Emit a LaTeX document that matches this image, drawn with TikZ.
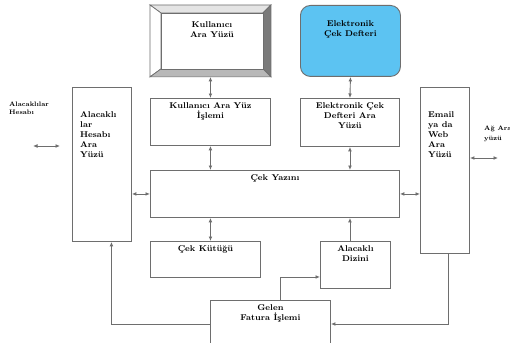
\documentclass[tikz,border=0pt]{standalone}
\usepackage{tikz}
\usetikzlibrary{arrows.meta, positioning, calc}
\definecolor{cdLine}{HTML}{6E6E6E}
\definecolor{cdBlue}{HTML}{5CC3F2}
\definecolor{cdDark}{HTML}{7A7A7A}
\definecolor{cdMid}{HTML}{B8B8B8}
\definecolor{cdLight}{HTML}{E4E4E4}
\tikzset{
  cdbox/.style={draw=cdLine, line width=0.9pt, anchor=north west, inner sep=0pt},
  cdtext/.style={font=\fontsize{8.4}{10}\selectfont\bfseries, inner sep=0pt},
  cdtop/.style={label={[cdtext, align=center, anchor=north, yshift=-4pt]north:#1}},
  cdlow/.style={label={[cdtext, align=center, anchor=north, yshift=-15pt]north:#1}},
  cdleft/.style={label={[cdtext, align=left, anchor=north west, xshift=8pt, yshift=-24pt]north west:#1}},
  cdboth/.style={{Latex[length=4.5pt,width=3.8pt]}-{Latex[length=4.5pt,width=3.8pt]}, cdLine, line width=0.9pt},
  cdflow/.style={-{Latex[length=4.5pt,width=3.8pt]}, cdLine, line width=0.9pt},
  bevel/.style={draw=cdLine, line width=0.7pt}
}
\begin{document}
\begin{tikzpicture}[x=1pt, y=-1pt]
  \clip (0,0) rectangle (510,342);
  \fill[white] (0,0) rectangle (510,342);

  % top row
  \node[cdbox, minimum width=120pt, minimum height=71pt] (kay) at (150,5) {};
  \coordinate (kin1) at ($(kay.north west)+(11,8)$);
  \coordinate (kin2) at ($(kay.south east)+(-8,-8)$);
  \fill[bevel, fill=cdLight] (kay.north west) -- (kay.north east) -- (kin2 |- kin1) -- (kin1) -- cycle;
  \fill[bevel, fill=white] (kay.north west) -- (kin1) -- (kin1 |- kin2) -- (kay.south west) -- cycle;
  \fill[bevel, fill=cdDark] (kay.north east) -- (kay.south east) -- (kin2) -- (kin2 |- kin1) -- cycle;
  \fill[bevel, fill=cdMid] (kay.south west) -- (kay.south east) -- (kin2) -- (kin1 |- kin2) -- cycle;
  \draw[bevel, fill=white] (kin1) rectangle (kin2);
  \node[cdtext, align=center, anchor=north] (kaylbl) at ($(kin1)!0.5!(kin2 |- kin1)+(0,8)$) {Kullanıcı\\Ara Yüzü};

  \node[cdbox, fill=cdBlue, rounded corners=10pt, minimum width=100pt, minimum height=71pt,
        cdlow={Elektronik\\Çek Defteri}] (ecd) at (300,5) {};

  % middle row
  \node[cdbox, minimum width=120pt, minimum height=47pt, cdtop={Kullanıcı Ara Yüz\\İşlemi}] (kayi) at (150,98) {};
  \node[cdbox, minimum width=99pt, minimum height=48pt, cdtop={Elektronik Çek\\Defteri Ara\\Yüzü}] (ecda) at (300,98) {};
  \node[cdbox, minimum width=59pt, minimum height=154pt, cdleft={Alacaklı\\lar\\Hesabı\\Ara\\Yüzü}] (alh) at (72,87) {};
  \node[cdbox, minimum width=49pt, minimum height=166pt, cdleft={Email\\ya da\\Web\\Ara\\Yüzü}] (email) at (420,87) {};
  \node[cdbox, minimum width=249pt, minimum height=47pt, cdtop={Çek Yazını}] (yazin) at (150,170) {};

  % lower row
  \node[cdbox, minimum width=110pt, minimum height=36pt, cdtop={Çek Kütüğü}] (kutuk) at (150,241) {};
  \node[cdbox, minimum width=70pt, minimum height=47pt, cdtop={Alacaklı\\Dizini}] (dizin) at (320,241) {};
  \node[cdbox, minimum width=120pt, minimum height=60pt, cdtop={Gelen\\Fatura İşlemi}] (gelen) at (210,300) {};

  % outside labels
  \node[cdtext, align=left, anchor=north west, font=\fontsize{6.5}{8}\selectfont\bfseries] (alhlbl) at (9,102) {Alacaklılar\\Hesabı};
  \node[cdtext, align=left, anchor=north west, font=\fontsize{6.5}{10}\selectfont\bfseries] (aglbl) at (484,126) {Ağ Ara\\yüzü};
  \coordinate (alhl) at (33,146);
  \coordinate (alhr) at (60,146);
  \coordinate (agr) at (498,158);

  % connectors
  \draw[cdboth] (kay.south) -- (kayi.north);
  \draw[cdboth] (ecd.south) -- (ecda.north);
  \draw[cdboth] (kayi.south) -- (yazin.north -| kayi.south);
  \draw[cdboth] (ecda.south) -- (yazin.north -| ecda.south);
  \draw[cdboth] (yazin.south -| kayi.south) -- (kutuk.north -| kayi.south);
  \draw[cdflow] (dizin.north -| ecda.south) -- (yazin.south -| ecda.south);
  \draw[cdboth] (alh.east |- yazin.west) -- (yazin.west);
  \draw[cdboth] (yazin.east) -- (email.west |- yazin.east);
  \draw[cdboth] (alhl) -- (alhr);
  \draw[cdboth] (email.east |- agr) -- (agr);
  \draw[cdflow] ([yshift=-24pt]gelen.north west) -| ([xshift=9.5pt]alh.south);
  \draw[cdflow] ([xshift=10pt]gelen.north) |- ([yshift=-12pt]dizin.west);
  \draw[cdflow] ([xshift=3.5pt]email.south) |- ([yshift=-24pt]gelen.north east);
\end{tikzpicture}
\end{document}
